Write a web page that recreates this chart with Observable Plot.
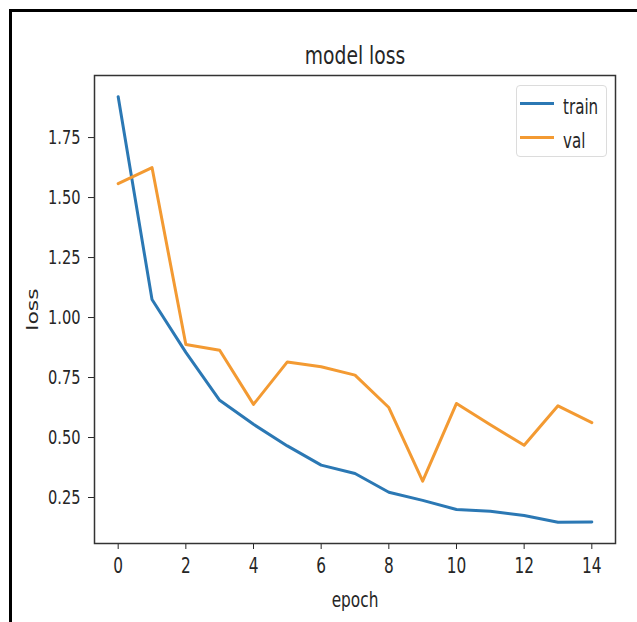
<!DOCTYPE html>
<html><head><meta charset="utf-8">
<script src="https://cdn.jsdelivr.net/npm/d3@7"></script>
<script src="https://cdn.jsdelivr.net/npm/@observablehq/plot@0.6"></script>
<style>
html,body{margin:0;padding:0;background:#fff;}
#wrap{position:relative;width:637px;height:622px;overflow:hidden;background:#fff;font-family:"DejaVu Sans",sans-serif;color:#262626;}
#wrap svg{position:absolute;left:0;top:0;}
#border{position:absolute;left:9px;top:9px;width:700px;height:700px;border-top:3px solid #000;border-left:3px solid #000;}
#legend{position:absolute;left:516px;top:85px;width:91px;height:72px;border:1px solid #dcdcdc;border-radius:4px;box-sizing:border-box;background:rgba(255,255,255,0.85);}
.sw{position:absolute;left:3px;width:34px;height:3px;}
.lt{position:absolute;left:46px;font-size:21px;line-height:24px;transform:scaleX(0.72);transform-origin:left center;white-space:nowrap;color:#262626;}
</style>
</head><body>
<div id="wrap"><div id="border"></div></div>
<script>
const titleText = "model loss";
const xLabel = "epoch";
const yLabel = "loss";
const seriesNames = ["train", "val"];
const seriesColors = ["#2b78b4", "#f39a32"];
const epochs = [0,1,2,3,4,5,6,7,8,9,10,11,12,13,14];
const trainLoss = [1.92, 1.075, 0.855, 0.655, 0.555, 0.465, 0.385, 0.35, 0.272, 0.238, 0.2, 0.193, 0.175, 0.147, 0.148];
const valLoss = [1.558, 1.625, 0.888, 0.864, 0.638, 0.815, 0.795, 0.76, 0.625, 0.318, 0.642, 0.553, 0.468, 0.632, 0.562];
const xTicks = [0,2,4,6,8,10,12,14];
const yTicks = [0.25,0.5,0.75,1.0,1.25,1.5,1.75];

const rows = epochs.map((e,i)=>({epoch:e, train:trainLoss[i], val:valLoss[i]}));

// matplotlib-like 5% margins
const xe = d3.extent(epochs), xm = (xe[1]-xe[0])*0.05;
const ye = d3.extent(trainLoss.concat(valLoss)), ym = (ye[1]-ye[0])*0.05;

const chart = Plot.plot({
  width: 637, height: 622,
  marginLeft: 94, marginRight: 22, marginTop: 75, marginBottom: 79,
  style: {fontFamily: '"DejaVu Sans", sans-serif', fontSize: "20px", color: "#262626", background: "transparent"},
  x: {domain: [xe[0]-xm, xe[1]+xm]},
  y: {domain: [ye[0]-ym, ye[1]+ym]},
  marks: [
    Plot.axisX({ticks: xTicks, tickSize: 6, tickPadding: 9, label: null, fontSize: 21}),
    Plot.axisY({ticks: yTicks, tickSize: 6, tickPadding: 8, tickFormat: d3.format(".2f"), label: null, fontSize: 20}),
    Plot.line(rows, {x: "epoch", y: "train", stroke: seriesColors[0], strokeWidth: 3}),
    Plot.line(rows, {x: "epoch", y: "val", stroke: seriesColors[1], strokeWidth: 3}),
    Plot.frame({stroke: "#333", strokeWidth: 1.5}),
    Plot.text([titleText], {text: d=>d, frameAnchor: "top", lineAnchor: "middle", dy: -19, fontSize: 24}),
    Plot.text([xLabel], {text: d=>d, frameAnchor: "bottom", lineAnchor: "middle", dy: 57, fontSize: 21}),
    Plot.text([yLabel], {text: d=>d, frameAnchor: "left", textAnchor: "middle", lineAnchor: "middle", dx: -62, rotate: -90, fontSize: 22})
  ]
});
const wrap = document.getElementById("wrap");
wrap.insertBefore(chart, wrap.firstChild);

// horizontally condensed text, like the reference
chart.querySelectorAll("text").forEach(t => {
  if (t.textContent === yLabel) {
    const tr = t.getAttribute("transform") || "";
    t.setAttribute("transform", tr + " scale(1,0.72)");
    return;
  }
  const f = t.textContent === titleText ? 0.78 : 0.73;
  const L = t.getComputedTextLength();
  if (L > 0) { t.setAttribute("textLength", (L*f).toFixed(2)); t.setAttribute("lengthAdjust", "spacingAndGlyphs"); }
});

// legend
const lg = document.createElement("div");
lg.id = "legend";
const swTops = [16, 50], txTops = [9, 43];
seriesNames.forEach((n,i)=>{
  const s = document.createElement("div"); s.className="sw"; s.style.top = swTops[i]+"px"; s.style.background = seriesColors[i]; lg.appendChild(s);
  const t = document.createElement("div"); t.className="lt"; t.style.top = txTops[i]+"px"; t.textContent = n; lg.appendChild(t);
});
wrap.appendChild(lg);
</script>
</body></html>
